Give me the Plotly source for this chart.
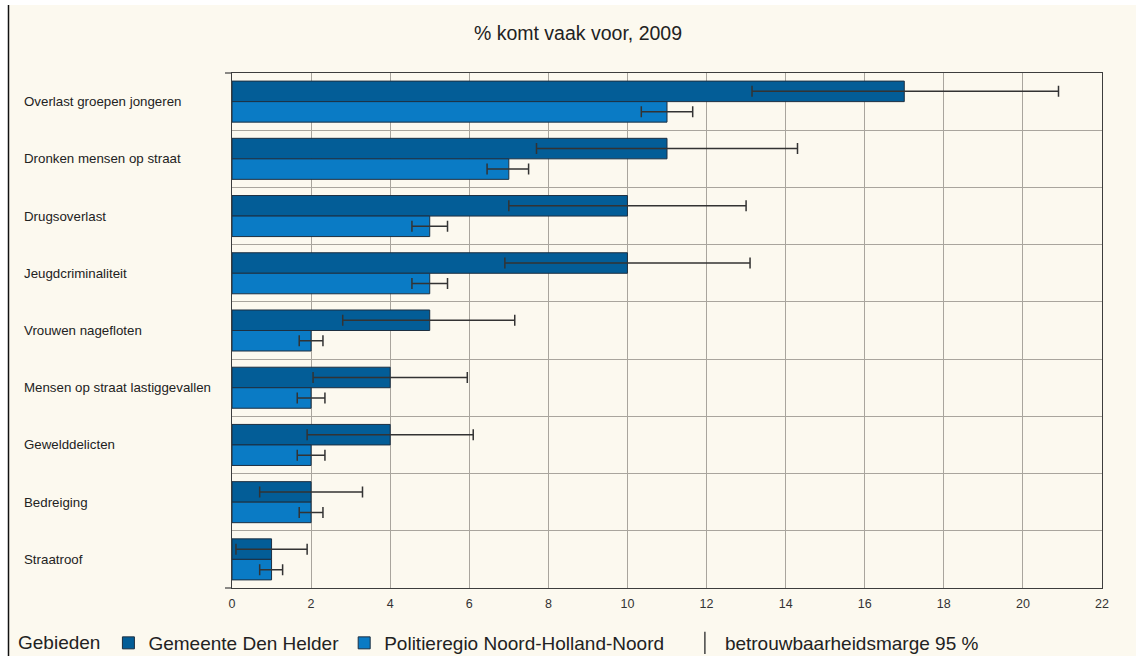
import plotly.graph_objects as go

categories = [
    "Overlast groepen jongeren",
    "Dronken mensen op straat",
    "Drugsoverlast",
    "Jeugdcriminaliteit",
    "Vrouwen nagefloten",
    "Mensen op straat lastiggevallen",
    "Gewelddelicten",
    "Bedreiging",
    "Straatroof",
]

den_helder = [17, 11, 10, 10, 5, 4, 4, 2, 1]
den_helder_low = [13.15, 7.7, 7.0, 6.9, 2.8, 2.05, 1.9, 0.7, 0.1]
den_helder_high = [20.9, 14.3, 13.0, 13.1, 7.15, 5.95, 6.1, 3.3, 1.9]

regio = [11, 7, 5, 5, 2, 2, 2, 2, 1]
regio_low = [10.35, 6.45, 4.55, 4.55, 1.7, 1.65, 1.65, 1.7, 0.7]
regio_high = [11.65, 7.5, 5.45, 5.45, 2.3, 2.35, 2.35, 2.3, 1.28]

x_ticks = list(range(0, 24, 2))

DARK = "#035d97"
LIGHT = "#0a7bc5"
BG = "#fcf9ef"
GRID = "#a9a59d"
FRAME = "#3d3d3d"
FONT = "Liberation Sans, Arial, sans-serif"

fig = go.Figure()
fig.add_trace(go.Bar(
    y=categories, x=den_helder, orientation="h", name="Gemeente Den Helder",
    marker=dict(color=DARK, line=dict(color="#1d2f40", width=1)),
    error_x=dict(type="data", symmetric=False,
                 array=[h - v for h, v in zip(den_helder_high, den_helder)],
                 arrayminus=[v - l for l, v in zip(den_helder_low, den_helder)],
                 color="#333333", thickness=1.5, width=5.5),
))
fig.add_trace(go.Bar(
    y=categories, x=regio, orientation="h",
    name="Politieregio Noord-Holland-Noord\u00a0\u00a0\u00a0",
    marker=dict(color=LIGHT, line=dict(color="#1d2f40", width=1)),
    error_x=dict(type="data", symmetric=False,
                 array=[h - v for h, v in zip(regio_high, regio)],
                 arrayminus=[v - l for l, v in zip(regio_low, regio)],
                 color="#333333", thickness=1.5, width=5.5),
))
fig.add_trace(go.Scatter(
    x=[None], y=[None], mode="markers", name="betrouwbaarheidsmarge 95 %",
    marker=dict(symbol="line-ns-open", size=18, color="#444444",
                line=dict(color="#444444", width=1.5)),
))

W, H = 1136, 656
L, R, T, B = 232, 34, 73, 68
pw = W - L - R
ph = H - T - B

def px_x(px):
    return (px - L) / pw

def px_y(py):
    return (H - B - py) / ph

annotations = []
for c in categories:
    annotations.append(dict(
        x=px_x(22), xref="paper", y=c, yref="y", text=c, showarrow=False,
        xanchor="left", yanchor="middle",
        font=dict(family=FONT, size=13.3, color="#222222"),
    ))

shapes = [
    dict(type="rect", xref="paper", yref="paper", x0=px_x(-5), x1=px_x(8),
         y0=px_y(H + 5), y1=px_y(-5), fillcolor="white", line=dict(width=0), layer="below"),
    dict(type="rect", xref="paper", yref="paper", x0=px_x(-5), x1=px_x(W + 5),
         y0=px_y(5), y1=px_y(-5), fillcolor="white", line=dict(width=0), layer="below"),
    dict(type="line", xref="paper", yref="paper", x0=px_x(8.5), x1=px_x(8.5),
         y0=px_y(5), y1=px_y(H + 5), line=dict(color="#111111", width=1.5)),
    dict(type="line", xref="paper", yref="paper", x0=px_x(225), x1=0,
         y0=1, y1=1, line=dict(color=FRAME, width=1.2)),
    dict(type="line", xref="paper", yref="paper", x0=px_x(225), x1=0,
         y0=0, y1=0, line=dict(color=FRAME, width=1.2)),
]

fig.update_layout(
    width=W, height=H,
    margin=dict(l=L, r=R, t=T, b=B, autoexpand=False),
    paper_bgcolor=BG, plot_bgcolor=BG,
    barmode="group", bargap=0.283, bargroupgap=0,
    font=dict(family=FONT, color="#222222"),
    title=dict(text="% komt vaak voor, 2009", x=578 / W, xref="container", xanchor="center",
               y=1 - 33 / H, yref="container", yanchor="middle",
               font=dict(family=FONT, size=19.5, color="#222222")),
    xaxis=dict(range=[0, 22], tickvals=x_ticks, showgrid=True, gridcolor=GRID, gridwidth=1,
               zeroline=False, showline=True, linecolor=FRAME, linewidth=1.2, mirror=True,
               ticks="", ticklabelstandoff=4,
               tickfont=dict(family=FONT, size=12.5, color="#333333")),
    yaxis=dict(autorange="reversed", type="category", tickson="boundaries",
               showgrid=True, gridcolor=GRID, gridwidth=1, showticklabels=False, ticks="",
               showline=True, linecolor=FRAME, linewidth=1.2, mirror=True),
    legend=dict(orientation="h", x=px_x(16), xanchor="left", y=px_y(643), yanchor="middle",
                title=dict(text="Gebieden", side="left", font=dict(family=FONT, size=19, color="#222222")),
                font=dict(family=FONT, size=19, color="#222222"), bgcolor="rgba(0,0,0,0)",
                traceorder="normal"),
    annotations=annotations,
    shapes=shapes,
)

fig.write_html("out.html", config={"displayModeBar": False})

with open("out.html", "r", encoding="utf-8") as f:
    html = f.read()
html = html.replace("<head>", "<head><style>html,body{margin:0;padding:0;overflow:hidden;}</style>", 1)
with open("out.html", "w", encoding="utf-8") as f:
    f.write(html)
